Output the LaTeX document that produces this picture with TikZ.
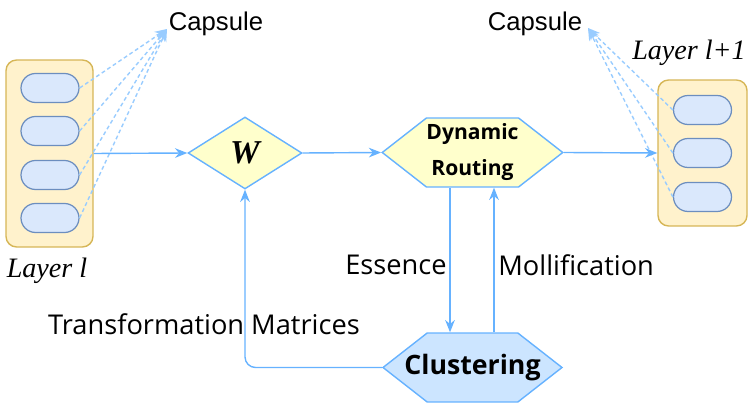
\documentclass[tikz,border=0pt]{standalone}
\usepackage{fontspec}
\newfontfamily\capfont{Liberation Sans}
\newfontfamily\uifont{Open Sans}
\newfontfamily\wfont{Liberation Serif}
\usepackage{xcolor}
\usetikzlibrary{arrows.meta, shapes.geometric, shapes.misc, shapes.symbols, positioning}

\definecolor{layerfill}{HTML}{FFF2CC}
\definecolor{layerdraw}{HTML}{D6B656}
\definecolor{capfill}{HTML}{DAE8FC}
\definecolor{capdraw}{HTML}{6C8EBF}
\definecolor{opfill}{HTML}{FFFFCC}
\definecolor{clufill}{HTML}{CCE5FF}
\definecolor{linkblue}{HTML}{66B2FF}
\definecolor{dashblue}{HTML}{99CCFF}

\begin{document}
\begin{tikzpicture}[x=0.02cm, y=-0.02cm, >={Stealth[length=7pt, width=5.5pt]},
    layerbox/.style={draw=layerdraw, fill=layerfill, line width=0.8pt, rounded corners=6pt, inner sep=0pt},
    capsule/.style={rounded rectangle, draw=capdraw, fill=capfill, line width=0.7pt,
        minimum width=1.16cm, minimum height=0.58cm, inner sep=0pt},
    flow/.style={->, draw=linkblue, line width=0.8pt},
    pointer/.style={->, draw=dashblue, line width=0.8pt, dash pattern=on 2.2pt off 1.6pt},
    hexop/.style={signal, signal to=west and east, signal pointer angle=76, draw=linkblue,
        line width=0.8pt, minimum width=3.58cm, minimum height=1.38cm, inner sep=0pt},
    layername/.style={font=\wfont\fontsize{16}{18}\selectfont\itshape, inner sep=0pt},
    plain/.style={font=\uifont\fontsize{15.5}{18}\selectfont, inner sep=0pt}]

    \useasboundingbox (0,0) rectangle (753,411);

    % =================================================================
    % 1. LAYER l (left) AND LAYER l+1 (right)
    % =================================================================
    \node[layerbox, minimum width=1.74cm, minimum height=3.74cm] (layerL) at (49.5,153.5) {};
    \node[capsule] (cl1) at (50,88) {};
    \node[capsule] (cl2) at (50,131) {};
    \node[capsule] (cl3) at (50,175) {};
    \node[capsule] (cl4) at (50,218) {};

    \node[layerbox, minimum width=1.78cm, minimum height=2.92cm] (layerR) at (702.5,153) {};
    \node[capsule] (cr1) at (702.5,110) {};
    \node[capsule] (cr2) at (702.5,153) {};
    \node[capsule] (cr3) at (702.5,197) {};

    % Layer names
    \node[layername] (nameL) at (47,271) {Layer l};
    \node[layername] (nameR) at (689,53) {Layer l+1};

    % =================================================================
    % 2. "CAPSULE" LABELS AND DASHED POINTERS
    % =================================================================
    \node[font=\capfont\fontsize{14.6}{17}\selectfont, inner sep=0pt] (capL) at (216,24) {Capsule};
    \node[font=\capfont\fontsize{14.6}{17}\selectfont, inner sep=0pt] (capR) at (535,24) {Capsule};
    \coordinate (capLtip) at (167,29);
    \coordinate (capRtip) at (588,28);

    \foreach \c in {cl1, cl2, cl3, cl4}
        \draw[pointer] (\c.east) -- (capLtip);
    \foreach \c in {cr1, cr2, cr3}
        \draw[pointer] (\c.west) -- (capRtip);

    % =================================================================
    % 3. OPERATION NODES
    % =================================================================
    \node[diamond, draw=linkblue, fill=opfill, line width=0.8pt, inner sep=0pt,
          minimum width=2.28cm, minimum height=1.44cm] (W) at (245,153)
          {\wfont\fontsize{19}{22}\selectfont\bfseries\itshape W};
    \node[hexop, fill=opfill, align=center, font=\uifont\bfseries\fontsize{12}{20.5}\selectfont]
          (route) at (472.5,152.5) {Dynamic\\Routing};
    % label kept outside the shape's text so the hexagon keeps its size
    \node[hexop, fill=clufill,
          label={[font=\uifont\bfseries\fontsize{15.2}{18}\selectfont]center:Clustering}]
          (cluster) at (472.5,367.5) {};

    % =================================================================
    % 4. CONNECTORS
    % =================================================================
    \draw[flow] (layerL.east) -- (W.west);
    \draw[flow] (W.east) -- (route.west);
    \draw[flow] (route.east) -- (layerR.west);
    \draw[flow] ([xshift=-0.45cm]route.south) -- ([xshift=-0.45cm]cluster.north);
    \draw[flow] ([xshift=0.43cm]cluster.north) -- ([xshift=0.43cm]route.south);
    \draw[flow, rounded corners=6pt] (cluster.west) -| (W.south);

    % =================================================================
    % 5. EDGE LABELS
    % =================================================================
    \node[plain, anchor=east] (essence) at (447,265) {Essence};
    \node[plain, anchor=west] (mollify) at (498,265) {Mollification};
    \node[plain] (transform) at (204,324) {Transformation Matrices};

\end{tikzpicture}
\end{document}
